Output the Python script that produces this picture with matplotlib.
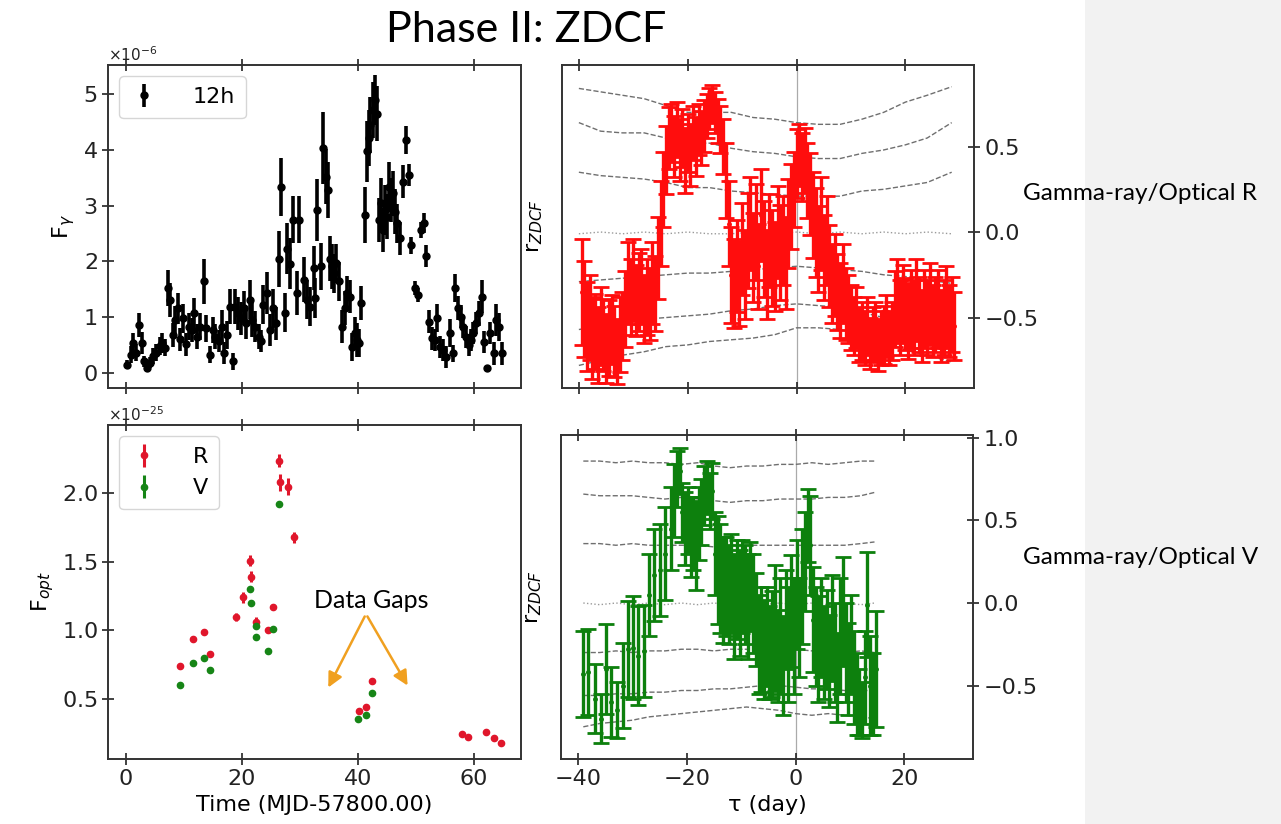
import matplotlib
matplotlib.use("Agg")
import matplotlib.pyplot as plt
from matplotlib.patches import Rectangle
import numpy as np

# ---------------- data ----------------
# Gamma-ray light curve (12h bins), flux in units of 1e-6
gam_t = [0.2, 0.8, 1.15, 1.7, 2.25, 2.7, 3.1, 3.6, 4.15, 4.6, 5.2, 5.8, 6.2, 6.7, 7.2, 7.6, 8.1, 8.5, 8.9, 9.3,
         9.8, 10.4, 10.8, 11.4, 11.8, 12.2, 12.7, 13.4, 13.8, 14.4, 15.0, 15.4, 16.0, 16.5, 16.9, 17.4, 17.9, 18.4, 18.8, 19.3,
         19.8, 20.3, 20.7, 21.3, 21.7, 22.3, 22.9, 23.3, 23.7, 24.3, 24.9, 25.4, 25.8, 26.3, 26.8, 27.4, 27.8, 28.2, 28.8, 29.4,
         29.8, 30.7, 31.2, 31.8, 32.4, 32.6, 33.0, 33.6, 34.0, 34.5, 34.8, 35.1, 35.5, 35.9, 36.2, 36.7, 37.2, 37.7, 38.1, 38.6,
         39.0, 39.4, 39.8, 40.2, 40.6, 41.2, 41.6, 41.9, 42.1, 42.5, 42.9, 43.2, 43.6, 44.0, 44.3, 44.7, 45.0, 45.4, 45.7, 46.1,
         46.4, 46.8, 47.2, 47.7, 48.3, 48.8, 49.2, 49.9, 50.3, 50.8, 51.3, 51.8, 52.2, 52.8, 53.3, 53.7, 54.2, 54.7, 55.2, 55.8,
         56.3, 56.7, 57.2, 57.7, 58.1, 58.6, 59.1, 59.4, 59.9, 60.3, 60.8, 61.3, 61.8, 62.3, 62.8, 63.4, 63.8, 64.3, 64.9]
gam_f = [0.15, 0.33, 0.54, 0.36, 0.86, 0.54, 0.21, 0.09, 0.18, 0.30, 0.36, 0.48, 0.54, 0.45, 1.52, 1.31, 0.68, 0.95, 1.16, 0.60,
         0.98, 0.51, 0.83, 0.77, 1.07, 0.65, 0.83, 1.64, 0.80, 0.33, 0.77, 0.65, 0.57, 0.83, 0.36, 0.68, 1.19, 0.21, 1.19, 1.07,
         0.98, 1.16, 0.89, 1.31, 0.95, 0.83, 0.65, 0.57, 1.22, 1.43, 0.77, 1.16, 0.89, 2.04, 3.33, 1.08, 2.23, 1.96, 2.75, 1.43,
         2.75, 1.67, 1.31, 1.19, 1.88, 1.34, 2.92, 1.91, 4.03, 3.52, 3.28, 2.05, 1.91, 1.79, 1.97, 1.64, 0.83, 1.16, 1.43, 1.37,
         0.47, 0.71, 0.59, 0.53, 1.25, 2.83, 3.97, 4.21, 4.44, 4.71, 4.89, 4.65, 2.74, 3.04, 2.56, 2.92, 2.80, 3.34, 3.10, 3.22,
         2.89, 2.68, 2.41, 3.43, 4.18, 3.55, 2.29, 1.52, 1.40, 2.56, 2.68, 2.10, 0.92, 0.62, 0.59, 0.98, 0.47, 0.41, 0.29, 0.71,
         0.35, 1.52, 1.16, 1.01, 0.83, 0.65, 0.50, 0.59, 0.71, 0.89, 1.07, 1.37, 0.56, 0.08, 0.71, 0.35, 0.95, 0.83, 0.35]
gam_e = [0.08, 0.15, 0.18, 0.15, 0.22, 0.20, 0.10, 0.08, 0.10, 0.14, 0.15, 0.16, 0.18, 0.15, 0.32, 0.30, 0.22, 0.25, 0.28, 0.20,
         0.26, 0.20, 0.24, 0.22, 0.28, 0.22, 0.24, 0.40, 0.24, 0.15, 0.24, 0.22, 0.20, 0.30, 0.20, 0.25, 0.32, 0.15, 0.32, 0.30,
         0.30, 0.30, 0.28, 0.35, 0.30, 0.28, 0.22, 0.20, 0.35, 0.38, 0.28, 0.35, 0.30, 0.50, 0.52, 0.35, 0.45, 0.45, 0.42, 0.40,
         0.42, 0.40, 0.35, 0.35, 0.40, 0.36, 0.55, 0.42, 0.65, 0.50, 0.50, 0.40, 0.40, 0.35, 0.35, 0.35, 0.30, 0.30, 0.30, 0.30,
         0.25, 0.30, 0.30, 0.25, 0.30, 0.50, 0.55, 0.50, 0.50, 0.50, 0.45, 0.50, 0.40, 0.45, 0.40, 0.45, 0.40, 0.45, 0.40, 0.40,
         0.40, 0.35, 0.30, 0.30, 0.25, 0.20, 0.15, 0.12, 0.12, 0.15, 0.18, 0.20, 0.20, 0.20, 0.20, 0.25, 0.20, 0.20, 0.20, 0.25,
         0.15, 0.25, 0.22, 0.20, 0.20, 0.20, 0.20, 0.20, 0.20, 0.20, 0.22, 0.30, 0.20, 0.05, 0.20, 0.20, 0.28, 0.25, 0.20]

# Optical fluxes, units of 1e-25
optR_t = [9.3, 11.5, 13.4, 14.4, 18.9, 20.1, 21.3, 21.5, 22.4, 24.4, 25.3, 26.3, 26.6, 28.0, 29.0,
          40.1, 41.4, 42.4, 58.0, 59.0, 62.0, 63.4, 64.6]
optR_f = [0.74, 0.94, 0.99, 0.83, 1.10, 1.24, 1.51, 1.39, 1.06, 1.00, 1.17, 2.24, 2.08, 2.05, 1.68,
          0.41, 0.44, 0.63, 0.24, 0.22, 0.26, 0.21, 0.18]
optR_e = [0.02, 0.02, 0.02, 0.02, 0.03, 0.04, 0.04, 0.04, 0.04, 0.02, 0.02, 0.05, 0.06, 0.06, 0.04,
          0.02, 0.02, 0.02, 0.01, 0.01, 0.01, 0.01, 0.01]
optV_t = [9.3, 11.5, 13.4, 14.4, 21.3, 21.5, 22.4, 22.5, 24.4, 25.3, 26.3, 40.0, 41.4, 42.4]
optV_f = [0.60, 0.76, 0.80, 0.71, 1.30, 1.20, 1.03, 0.95, 0.85, 1.01, 1.92, 0.35, 0.38, 0.54]
optV_e = [0.01, 0.01, 0.01, 0.01, 0.02, 0.02, 0.02, 0.02, 0.01, 0.01, 0.02, 0.01, 0.01, 0.01]

# ZDCF gamma / optical R
red_tau = [-39.5, -39.0, -38.5, -38.0, -37.5, -37.0, -36.5, -36.0, -35.5, -35.0, -34.5, -34.0, -33.5, -33.0, -32.5, -32.0,
           -31.5, -31.0, -30.5, -30.0, -29.5, -29.0, -28.5, -28.0, -27.5, -27.0, -26.5, -26.0,
           -25.5, -25.0, -24.5, -24.0,
           -23.5, -23.0, -22.5, -22.0, -21.5, -21.0, -20.5, -20.0, -19.5, -19.0, -18.5, -18.0, -17.5, -17.0,
           -16.5, -16.0, -15.5, -15.0, -14.5, -14.0, -13.5,
           -13.0, -12.5, -12.0, -11.5, -11.0,
           -10.5, -10.0, -9.5, -9.0, -8.5, -8.0, -7.5, -7.0, -6.5, -6.0, -5.5, -5.0, -4.5, -4.0, -3.5, -3.0, -2.5, -2.0, -1.5,
           -1.0, -0.5, 0.0, 0.5, 1.0, 1.5, 2.0, 2.5,
           3.0, 3.5, 4.0, 4.5, 5.0, 5.5,
           6.0, 6.5, 7.0, 7.5, 8.0, 8.5, 9.0, 9.5, 10.0,
           10.5, 11.0, 11.5, 12.0, 12.5, 13.0, 13.5, 14.0, 14.5, 15.0, 15.5, 16.0, 16.5, 17.0, 17.5,
           18.0, 18.5, 19.0, 19.5, 20.0, 20.5, 21.0, 21.5, 22.0, 22.5, 23.0, 23.5, 24.0, 24.5, 25.0, 25.5, 26.0, 26.5,
           27.0, 27.5, 28.0, 28.5, 29.0]
red_r = [-0.35, -0.45, -0.55, -0.50, -0.62, -0.58, -0.66, -0.55, -0.60, -0.68, -0.62, -0.57, -0.64, -0.70, -0.60, -0.55,
         -0.45, -0.30, -0.38, -0.28, -0.40, -0.35, -0.32, -0.45, -0.38, -0.42, -0.30, -0.36,
         -0.15, 0.05, 0.25, 0.42,
         0.55, 0.58, 0.50, 0.60, 0.48, 0.55, 0.42, 0.52, 0.45, 0.58, 0.50, 0.60, 0.55, 0.62,
         0.68, 0.72, 0.75, 0.70, 0.65, 0.60, 0.50,
         0.30, 0.05, -0.25, -0.30, -0.20,
         -0.30, -0.10, -0.25, -0.05, 0.05, -0.15, 0.00, -0.20, 0.10, -0.10, -0.25, -0.05, -0.15, -0.20, 0.00, -0.12, -0.05, -0.18, 0.05,
         0.15, 0.25, 0.40, 0.45, 0.38, 0.42, 0.30, 0.22,
         0.10, 0.00, -0.10, 0.05, -0.15, -0.05,
         -0.20, -0.30, -0.25, -0.35, -0.40, -0.30, -0.42, -0.45, -0.50,
         -0.55, -0.50, -0.60, -0.58, -0.62, -0.55, -0.65, -0.60, -0.58, -0.66, -0.62, -0.60, -0.55, -0.62, -0.58,
         -0.45, -0.40, -0.50, -0.42, -0.48, -0.52, -0.45, -0.50, -0.40, -0.48, -0.55, -0.45, -0.50, -0.42, -0.52, -0.48,
         -0.45, -0.55, -0.50, -0.44, -0.52, -0.48, -0.55]
red_e = [0.31, 0.28, 0.26, 0.25, 0.24, 0.22, 0.22, 0.23, 0.21, 0.20, 0.22, 0.20, 0.21, 0.19, 0.22, 0.20,
         0.22, 0.24, 0.22, 0.24, 0.21, 0.23, 0.22, 0.20, 0.22, 0.21, 0.24, 0.22,
         0.24, 0.25, 0.22, 0.20,
         0.18, 0.17, 0.18, 0.16, 0.18, 0.17, 0.19, 0.17, 0.18, 0.16, 0.17, 0.15, 0.16, 0.15,
         0.13, 0.12, 0.11, 0.12, 0.13, 0.14, 0.16,
         0.22, 0.25, 0.28, 0.26, 0.27,
         0.25, 0.27, 0.26, 0.28, 0.27, 0.26, 0.28, 0.25, 0.27, 0.28, 0.26, 0.27, 0.28, 0.26, 0.27, 0.28, 0.26, 0.27, 0.26,
         0.25, 0.22, 0.20, 0.18, 0.20, 0.19, 0.22, 0.24,
         0.25, 0.26, 0.25, 0.27, 0.25, 0.26,
         0.24, 0.23, 0.24, 0.22, 0.22, 0.23, 0.21, 0.20, 0.19,
         0.17, 0.18, 0.16, 0.17, 0.16, 0.17, 0.15, 0.16, 0.17, 0.15, 0.16, 0.17, 0.18, 0.16, 0.17,
         0.22, 0.24, 0.22, 0.23, 0.21, 0.22, 0.23, 0.22, 0.24, 0.22, 0.21, 0.23, 0.22, 0.24, 0.21, 0.22,
         0.23, 0.21, 0.22, 0.24, 0.21, 0.22, 0.20]

# ZDCF gamma / optical V
grn_tau = [-39.1, -38.2, -36.9, -35.8, -34.8, -33.9, -32.8, -31.7, -30.7, -29.9, -28.9, -27.8, -26.9, -26.0, -24.9, -23.9,
           -22.9, -22.3, -21.8, -21.3, -20.8, -20.3, -19.8, -19.3, -18.8, -18.3, -17.8, -17.3, -16.8, -16.3, -15.8, -15.3,
           -14.8, -14.3, -13.8, -13.3, -12.8, -12.3, -11.8, -11.3, -10.8, -10.3, -9.8, -9.3, -8.8, -8.3, -7.8, -7.3,
           -6.8, -6.3, -5.8, -5.3, -4.8, -4.3, -3.8, -3.3, -2.8, -2.3, -1.8, -1.3, -0.8, -0.3, 0.2, 0.7,
           1.2, 1.7, 2.2, 2.7, 3.2, 3.7, 4.2, 4.7, 5.2, 5.7, 6.2, 6.7, 7.2, 7.7, 8.2, 8.7,
           9.2, 9.7, 10.2, 10.7, 11.2, 11.7, 12.2, 12.7, 13.2, 13.7, 14.2, 14.7]
grn_r = [-0.43, -0.42, -0.58, -0.70, -0.40, -0.60, -0.65, -0.50, -0.28, -0.27, -0.32, -0.29, 0.05, 0.17, 0.20, 0.30,
         0.45, 0.62, 0.75, 0.80, 0.55, 0.45, 0.50, 0.40, 0.42, 0.35, 0.48, 0.55, 0.65, 0.70, 0.62, 0.68,
         0.30, 0.20, 0.15, 0.08, 0.10, 0.05, 0.12, -0.02, 0.08, 0.00, 0.10, 0.05, -0.02, 0.10, 0.00, -0.10,
         -0.25, -0.22, -0.28, -0.20, -0.30, -0.25, -0.15, -0.32, -0.20, -0.38, -0.10, -0.25, -0.05, -0.20, 0.05, -0.15,
         0.10, 0.25, 0.47, 0.35, -0.10, -0.20, -0.28, -0.15, -0.30, -0.22, -0.35, -0.15, -0.30, -0.45, -0.20, -0.05,
         -0.30, -0.40, -0.25, -0.45, -0.55, -0.60, -0.65, -0.45, -0.01, -0.50, -0.55, -0.40]
grn_e = [0.26, 0.26, 0.21, 0.15, 0.27, 0.21, 0.17, 0.26, 0.29, 0.31, 0.30, 0.28, 0.25, 0.28, 0.28, 0.28,
         0.25, 0.22, 0.17, 0.14, 0.18, 0.22, 0.20, 0.24, 0.22, 0.27, 0.22, 0.20, 0.18, 0.16, 0.17, 0.17,
         0.25, 0.33, 0.33, 0.32, 0.30, 0.30, 0.30, 0.32, 0.30, 0.32, 0.28, 0.30, 0.32, 0.27, 0.30, 0.28,
         0.30, 0.32, 0.30, 0.30, 0.28, 0.32, 0.38, 0.28, 0.35, 0.30, 0.30, 0.35, 0.34, 0.35, 0.33, 0.30,
         0.35, 0.30, 0.22, 0.30, 0.32, 0.30, 0.32, 0.30, 0.28, 0.30, 0.28, 0.32, 0.30, 0.27, 0.35, 0.33,
         0.30, 0.28, 0.30, 0.28, 0.25, 0.20, 0.17, 0.28, 0.32, 0.30, 0.25, 0.35]

# Significance contours (simulated levels)
red_lvl_tau = [-40, -36, -32, -28, -24, -20, -16, -12, -8, -4, 0, 4, 8, 12, 16, 20, 24, 28.5]
red_lvls = [
    [0.84, 0.82, 0.80, 0.78, 0.74, 0.70, 0.70, 0.70, 0.67, 0.66, 0.64, 0.63, 0.63, 0.66, 0.70, 0.76, 0.80, 0.85],
    [0.64, 0.59, 0.58, 0.58, 0.55, 0.52, 0.52, 0.49, 0.47, 0.46, 0.44, 0.43, 0.43, 0.46, 0.48, 0.51, 0.55, 0.64],
    [0.35, 0.33, 0.32, 0.31, 0.29, 0.26, 0.26, 0.24, 0.23, 0.22, 0.21, 0.21, 0.21, 0.24, 0.25, 0.27, 0.29, 0.35],
    [-0.01, 0.00, -0.01, 0.00, -0.01, 0.00, -0.01, -0.01, 0.00, -0.01, 0.00, -0.01, 0.00, -0.01, 0.00, -0.01, 0.00, -0.01],
    [-0.29, -0.28, -0.27, -0.26, -0.25, -0.24, -0.24, -0.23, -0.22, -0.21, -0.20, -0.21, -0.22, -0.23, -0.25, -0.26, -0.28, -0.30],
    [-0.57, -0.55, -0.53, -0.51, -0.50, -0.49, -0.48, -0.46, -0.45, -0.43, -0.42, -0.43, -0.44, -0.47, -0.50, -0.53, -0.56, -0.59],
    [-0.78, -0.75, -0.72, -0.70, -0.67, -0.66, -0.64, -0.63, -0.62, -0.60, -0.56, -0.56, -0.57, -0.60, -0.64, -0.69, -0.72, -0.76],
]
grn_lvl_tau = [-39, -36, -33, -30, -27, -24, -21, -18, -15, -12, -9, -6, -3, 0, 3, 6, 9, 12, 14.5]
grn_lvls = [
    [0.86, 0.86, 0.85, 0.86, 0.85, 0.85, 0.84, 0.85, 0.83, 0.82, 0.83, 0.83, 0.84, 0.84, 0.85, 0.84, 0.85, 0.86, 0.86],
    [0.66, 0.65, 0.65, 0.65, 0.64, 0.63, 0.64, 0.63, 0.62, 0.61, 0.62, 0.62, 0.63, 0.63, 0.63, 0.64, 0.64, 0.65, 0.67],
    [0.36, 0.36, 0.35, 0.36, 0.35, 0.35, 0.35, 0.35, 0.34, 0.35, 0.35, 0.35, 0.35, 0.35, 0.35, 0.35, 0.35, 0.36, 0.37],
    [0.00, -0.01, 0.00, -0.01, 0.00, -0.01, 0.00, -0.01, 0.00, -0.01, 0.00, -0.01, 0.00, -0.01, 0.00, -0.01, 0.00, -0.01, 0.00],
    [-0.30, -0.30, -0.29, -0.30, -0.29, -0.29, -0.28, -0.28, -0.29, -0.28, -0.28, -0.29, -0.28, -0.28, -0.29, -0.29, -0.30, -0.29, -0.30],
    [-0.56, -0.56, -0.55, -0.55, -0.54, -0.54, -0.53, -0.53, -0.52, -0.52, -0.51, -0.50, -0.50, -0.51, -0.52, -0.52, -0.53, -0.53, -0.53],
    [-0.75, -0.73, -0.72, -0.71, -0.69, -0.68, -0.67, -0.66, -0.65, -0.64, -0.63, -0.64, -0.65, -0.67, -0.68, -0.67, -0.68, -0.69, -0.70],
]

time_ticks = [0, 20, 40, 60]
tau_ticks = [-40, -20, 0, 20]

# ---------------- figure ----------------
W, H = 1281, 824
fig = plt.figure(figsize=(W / 100, H / 100), dpi=100)
fig.patch.set_facecolor("white")
fig.patches.append(Rectangle((1085 / W, 0), 1 - 1085 / W, 1, transform=fig.transFigure,
                             facecolor="#f2f2f2", edgecolor="none", zorder=0))


def box(l, r, t, b):
    return [l / W, 1 - b / H, (r - l) / W, (b - t) / H]


ax_tl = fig.add_axes(box(108, 521, 65, 388))
ax_tr = fig.add_axes(box(562, 974, 65, 388))
ax_bl = fig.add_axes(box(108, 521, 425, 759))
ax_br = fig.add_axes(box(561, 973, 435, 759))

LS = 16
for ax in (ax_tl, ax_tr, ax_bl, ax_br):
    for s in ax.spines.values():
        s.set_linewidth(1.4)
        s.set_color("#333333")
    ax.tick_params(direction="inout", length=8, width=1.2, labelsize=LS, colors="#222222")

# --- top-left: gamma-ray light curve
ax_tl.errorbar(gam_t, np.array(gam_f) * 1e-6, yerr=np.array(gam_e) * 1e-6, fmt="o", color="black",
               ms=5, elinewidth=2.6, capsize=0, label="12h")
ax_tl.set_xlim(-3.1, 68.1)
ax_tl.set_ylim(-0.27e-6, 5.52e-6)
ax_tl.set_xticks(time_ticks)
ax_tl.set_yticks([0, 1e-6, 2e-6, 3e-6, 4e-6, 5e-6])
ax_tl.ticklabel_format(axis="y", style="sci", scilimits=(0, 0), useMathText=True)
ax_tl.yaxis.get_offset_text().set_fontsize(11)
ax_tl.tick_params(top=True, bottom=True, labelbottom=False, left=True, right=False)
ax_tl.set_ylabel(r"F$_\gamma$", fontsize=LS)
ax_tl.legend(loc="upper left", fontsize=LS, handlelength=1.2, borderpad=0.5, handletextpad=1.6)

# --- bottom-left: optical
ax_bl.errorbar(optR_t, np.array(optR_f) * 1e-25, yerr=np.array(optR_e) * 1e-25, fmt="o", color="#e0162b",
               ms=4.5, elinewidth=2.2, capsize=0, label="R")
ax_bl.errorbar(optV_t, np.array(optV_f) * 1e-25, yerr=np.array(optV_e) * 1e-25, fmt="o", color="#168516",
               ms=4.5, elinewidth=2.2, capsize=0, label="V")
ax_bl.set_xlim(-3.1, 68.1)
ax_bl.set_ylim(0.06e-25, 2.50e-25)
ax_bl.set_xticks(time_ticks)
ax_bl.set_yticks([0.5e-25, 1.0e-25, 1.5e-25, 2.0e-25])
ax_bl.ticklabel_format(axis="y", style="sci", scilimits=(0, 0), useMathText=True)
ax_bl.yaxis.get_offset_text().set_fontsize(11)
ax_bl.tick_params(top=True, bottom=True, left=True, right=False)
ax_bl.set_ylabel(r"F$_{opt}$", fontsize=LS)
ax_bl.set_xlabel("Time (MJD-57800.00)", fontsize=LS)
ax_bl.legend(loc="upper left", fontsize=LS, handlelength=1.2, borderpad=0.5, handletextpad=1.6)

# --- right panels
for ax, lt, lv, tau, r, e, col, ylim in (
        (ax_tr, red_lvl_tau, red_lvls, red_tau, red_r, red_e, "#ff0d0d", (-0.912, 0.977)),
        (ax_br, grn_lvl_tau, grn_lvls, grn_tau, grn_r, grn_e, "#0d800d", (-0.945, 1.018))):
    for i, lev in enumerate(lv):
        if i == 3:
            ax.plot(lt, lev, ls=":", color="#9a9a9a", lw=1.0, zorder=1)
        else:
            ax.plot(lt, lev, ls="--", color="#6f6f6f", lw=1.0, zorder=1)
    ax.axvline(0, color="#aaaaaa", lw=0.9, zorder=0)
    ax.errorbar(tau, r, yerr=e, fmt="o", color=col, ms=2.5, elinewidth=2.4, capsize=5.5, capthick=2.0, zorder=2)
    ax.set_xlim(-43.1, 32.6)
    ax.set_ylim(*ylim)
    ax.set_xticks(tau_ticks)
    ax.yaxis.tick_right()
    ax.tick_params(top=True, bottom=True, left=False, right=True)
    ax.set_ylabel(r"r$_{ZDCF}$", fontsize=LS, labelpad=12)

ax_tr.set_yticks([-0.5, 0.0, 0.5])
ax_tr.tick_params(labelbottom=False)
ax_br.set_yticks([-0.5, 0.0, 0.5, 1.0])
ax_br.set_xlabel("τ (day)", fontsize=LS)

# ---------------- slide annotations ----------------
SLIDE = ["Lato", "DejaVu Sans"]
fig.text(526 / W, 1 - 30 / H, "Phase II: ZDCF", ha="center", va="center", fontsize=31, family=SLIDE)
fig.text(1023 / W, 1 - 194 / H, "Gamma-ray/Optical R", ha="left", va="center", fontsize=17.5, family=SLIDE)
fig.text(1023 / W, 1 - 557 / H, "Gamma-ray/Optical V", ha="left", va="center", fontsize=17.5, family=SLIDE)
fig.text(371 / W, 1 - 601 / H, "Data Gaps", ha="center", va="center", fontsize=18, family=SLIDE)
orange = "#f0a020"
for end in ((327, 690), (409, 688)):
    fig.patches.append(matplotlib.patches.FancyArrowPatch(
        (366 / W, 1 - 614 / H), (end[0] / W, 1 - end[1] / H), transform=fig.transFigure,
        arrowstyle="-|>", mutation_scale=22, color=orange, lw=1.8))

fig.savefig("out.png", dpi=100)
